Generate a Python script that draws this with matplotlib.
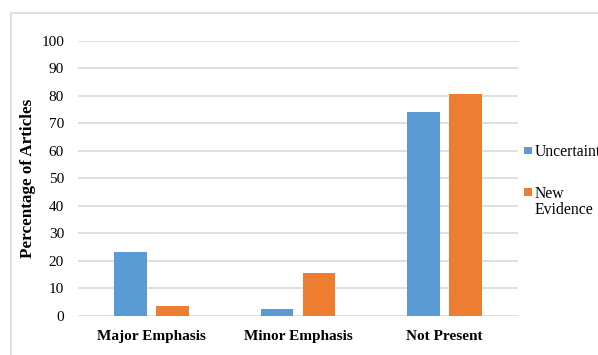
import matplotlib
matplotlib.use("Agg")
import matplotlib.pyplot as plt
from matplotlib.patches import Rectangle
import numpy as np

categories = ["Major Emphasis", "Minor Emphasis", "Not Present"]
uncertainty = [23.3, 2.7, 74.0]
new_evidence = [3.6, 15.7, 80.5]
series_names = ["Uncertainty", "New\nEvidence"]
yticks = [0, 10, 20, 30, 40, 50, 60, 70, 80, 90, 100]

BLUE = "#5B9BD5"
ORANGE = "#ED7D31"
GRID = "#D9D9D9"

plt.rcParams["font.family"] = ["Liberation Serif", "DejaVu Serif"]

W, H = 598, 355
fig = plt.figure(figsize=(W / 100, H / 100), dpi=100)

# chart-area frame (runs off the right and bottom edges)
fig.patches.append(Rectangle((11 / W, -0.05), 1.2, 1 - 13 / H + 0.05,
                             transform=fig.transFigure, fill=False,
                             edgecolor=GRID, linewidth=1.2))

ax = fig.add_axes([78 / W, 1 - 316 / H, 440 / W, (316 - 40.7) / H])

x = np.arange(len(categories))
w = 0.222
off = 0.143
colors = [BLUE, ORANGE]
ax.bar(x - off, uncertainty, w, color=BLUE, zorder=3)
ax.bar(x + off, new_evidence, w, color=ORANGE, zorder=3)

ax.set_xlim(-0.5, len(categories) - 0.5)
ax.set_ylim(0, 100)
ax.set_yticks(yticks)
ax.set_yticklabels([str(t) for t in yticks], fontsize=11)
ax.set_xticks(x)
ax.set_xticklabels(categories, fontsize=11, fontweight="bold")
ax.tick_params(axis="both", length=0)
ax.tick_params(axis="y", pad=10)
ax.tick_params(axis="x", pad=10)
ax.grid(axis="y", color=GRID, linewidth=1.2, zorder=0)
for s in ax.spines.values():
    s.set_visible(False)

ax.set_ylabel("Percentage of Articles", fontsize=12.3, fontweight="bold")
ax.yaxis.set_label_coords(-0.095, 0.5)

# legend to the right of the plot area
legend_rows = [150.5, 192.0]
for name, c, yc in zip(series_names, colors, legend_rows):
    fig.patches.append(Rectangle((524 / W, 1 - (yc + 3.8) / H), 7.5 / W, 7.5 / H,
                                 transform=fig.transFigure, facecolor=c,
                                 edgecolor="none"))
    fig.text(535 / W, 1 - (yc - 6.5) / H, name, fontsize=11.3, va="top",
             ha="left", linespacing=1.05)

fig.savefig("out.png", dpi=100)
